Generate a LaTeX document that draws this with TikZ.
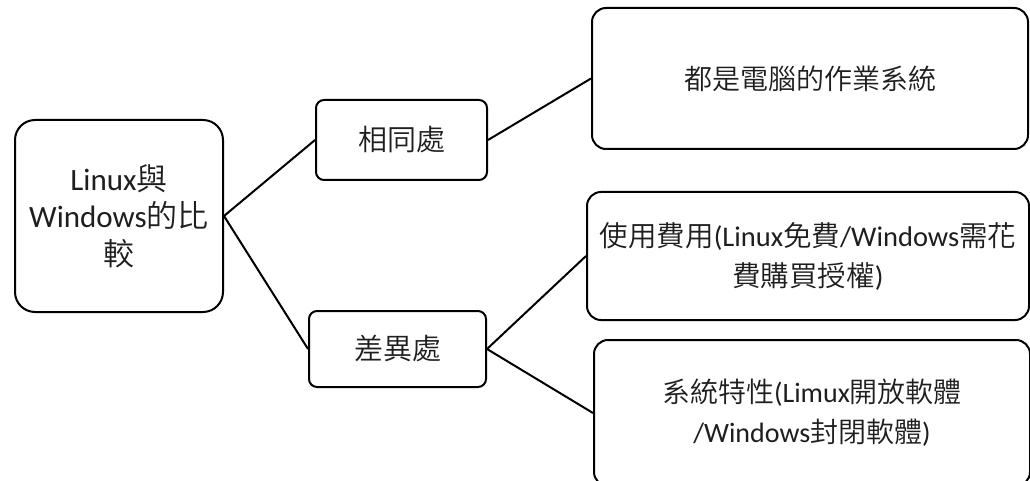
\documentclass[tikz,border=0pt]{standalone}
\usepackage{fontspec}
\setmainfont{Carlito}
\newfontfamily\cjk{Noto Sans CJK TC}[UprightFont={* DemiLight}]
\newcommand{\zh}[1]{{\cjk #1}}
\definecolor{txt}{RGB}{30,30,30}
\begin{document}
\begin{tikzpicture}[x=1pt,y=-1pt,
  box/.style={draw=black,line width=2pt,fill=white,inner sep=0pt,align=center,text=txt},
  conn/.style={draw=black,line width=2pt}]
\useasboundingbox (0,0) rectangle (1030,481);
\clip (0,0) rectangle (1030,481);
\fill[white] (0,0) rectangle (1030,481);
% nodes
\node[box,rounded corners=20pt,minimum width=208pt,minimum height=192pt,
      font=\fontsize{31}{37.5}\selectfont] (root) at (119,216)
  {Linux\zh{與}\\Windows\zh{的比}\\\zh{較}};
\node[box,rounded corners=8pt,minimum width=171pt,minimum height=80pt,
      font=\fontsize{29}{35}\selectfont] (same) at (401.5,140) {\zh{相同處}};
\node[box,rounded corners=8pt,minimum width=177pt,minimum height=76pt,
      font=\fontsize{29}{35}\selectfont] (diff) at (397.5,349) {\zh{差異處}};
\node[box,rounded corners=14pt,minimum width=436pt,minimum height=141pt,
      font=\fontsize{28}{40}\selectfont] (os) at (810,78.5) {\zh{都是電腦的作業系統}};
\node[box,rounded corners=14pt,minimum width=442pt,minimum height=128pt,
      font=\fontsize{28.5}{40}\selectfont] (cost) at (808,256)
  {\zh{使用費用}(Linux\zh{免費}/Windows\zh{需花}\\\zh{費購買授權})};
\node[box,rounded corners=14pt,minimum width=436pt,minimum height=146pt,
      font=\fontsize{28}{40}\selectfont] (feat) at (812,413)
  {\zh{系統特性}(Limux\zh{開放軟體}\\/Windows\zh{封閉軟體})};
% connectors
\draw[conn] (root.east) -- (same.west);
\draw[conn] (root.east) -- (diff.west);
\draw[conn] (same.east) -- (os.west);
\draw[conn] (diff.east) -- (cost.west);
\draw[conn] (diff.east) -- (feat.west);
\end{tikzpicture}
\end{document}
